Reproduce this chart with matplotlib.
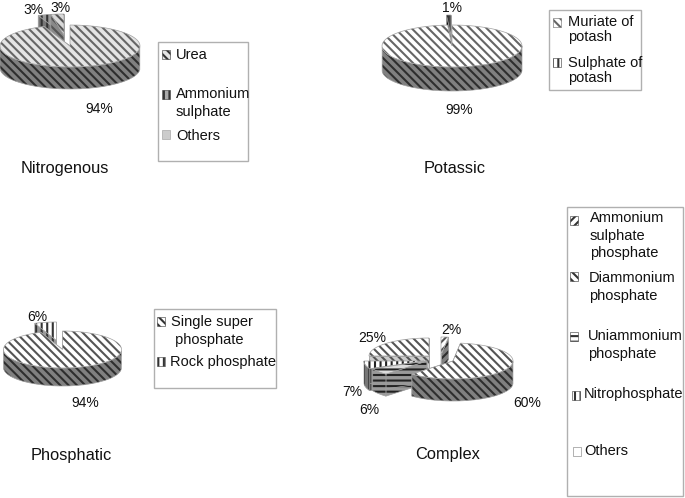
import numpy as np
import matplotlib
matplotlib.use('Agg')
import matplotlib.pyplot as plt
from matplotlib.patches import Polygon, Rectangle

plt.rcParams['font.family'] = ['Liberation Sans', 'DejaVu Sans']
plt.rcParams['hatch.linewidth'] = 1.5

nitro_values = [94, 3, 3]
nitro_labels = ['Urea', 'Ammonium\nsulphate', 'Others']
potash_values = [99, 1]
potash_labels = ['Muriate of\npotash', 'Sulphate of\npotash']
phos_values = [94, 6]
phos_labels = ['Single super\n phosphate', 'Rock phosphate']
complex_values = [2, 60, 6, 7, 25]
complex_labels = ['Ammonium\nsulphate\nphosphate', 'Diammonium\nphosphate',
                  'Uniammonium\nphosphate', 'Nitrophosphate', 'Others']

DIAG = '\\\\\\\\'
VERT = '|||'
HORZ = '---'
BACK = '////'


def clock_xy(cx, cy, rx, ry, theta):
    """Точка на еліпсі, кут за годинниковою стрілкою від 12 години"""
    t = np.radians(theta)
    return cx + rx * np.sin(t), cy - ry * np.cos(t)


def face(ax, pts, fc, hc, hatch, z):
    ax.add_patch(Polygon(pts, closed=True, facecolor=fc, edgecolor=hc, hatch=hatch, lw=0, zorder=z))
    ax.add_patch(Polygon(pts, closed=True, fill=False, edgecolor='#a0a0a0', lw=0.5, zorder=z + 0.1))


def slice_3d(ax, cx, cy, rx, ry, depth, a0, a1, top, side, hatch_col, side_hatch_col, hatch, z):
    th = np.linspace(a0, a1, 80)
    xs, ys = clock_xy(cx, cy, rx, ry, th)
    # зрізи
    for a in (a0, a1):
        x, y = clock_xy(cx, cy, rx, ry, a)
        face(ax, [(cx, cy), (x, y), (x, y + depth), (cx, cy + depth)], side, side_hatch_col, hatch, z)
    # бокова стінка, тільки передня половина еліпса
    front = th[(th >= 90) & (th <= 270)]
    if len(front) > 1:
        fx, fy = clock_xy(cx, cy, rx, ry, front)
        pts = list(zip(fx, fy)) + list(zip(fx[::-1], fy[::-1] + depth))
        face(ax, pts, side, side_hatch_col, hatch, z + 0.2)
    face(ax, [(cx, cy)] + list(zip(xs, ys)), top, hatch_col, hatch, z + 0.4)


def pie_3d(ax, values, cx, cy, rx, ry, depth, styles):
    total = sum(values)
    edges = np.concatenate([[0], np.cumsum(values)]) / total * 360
    for i, st in enumerate(styles):
        dx, dy, top, side, hc, shc, hatch, z = st
        slice_3d(ax, cx + dx, cy + dy, rx, ry, depth, edges[i], edges[i + 1],
                 top, side, hc, shc, hatch, z)


def legend_box(ax, x0, y0, x1, y1):
    ax.add_patch(Rectangle((x0, y0), x1 - x0, y1 - y0, fill=False, edgecolor='#b0b0b0', lw=1.0, zorder=5))


def legend_entry(ax, sx, sy, label, tx, ty, fc, hc, hatch, line=17.5):
    ax.add_patch(Rectangle((sx, sy), 8, 9, facecolor=fc, edgecolor=hc, hatch=hatch, lw=0.4, zorder=6))
    for k, part in enumerate(label.split('\n')):
        ax.text(tx, ty + k * line, part, fontsize=10.5, va='center', ha='left', color='#111111', zorder=6)


fig = plt.figure(figsize=(6.85, 4.98), dpi=100)
ax = fig.add_axes([0, 0, 1, 1])
ax.set_xlim(0, 685)
ax.set_ylim(498, 0)
ax.axis('off')

LIGHT = '#e4e4e4'
MID = '#808080'
DARK = '#333333'

# Nitrogenous
pie_3d(ax, nitro_values, 70, 46, 70, 21, 22, [
    (0, 0, LIGHT, MID, '#666666', '#2e2e2e', DIAG, 3),
    (-6, -11, '#999999', '#777777', DARK, DARK, VERT, 1),
    (-6, -11, '#d8d8d8', '#888888', '#555555', '#555555', DIAG, 2),
])
legend_box(ax, 158, 42, 248, 161)
legend_entry(ax, 162, 50, nitro_labels[0], 176, 55, LIGHT, DARK, DIAG)
legend_entry(ax, 162, 90, nitro_labels[1], 176, 94, '#aaaaaa', DARK, VERT)
legend_entry(ax, 162, 130, nitro_labels[2], 176, 136, '#cccccc', '#999999', '')

# Potassic
pie_3d(ax, potash_values, 452, 46, 70, 21, 24, [
    (0, 0, 'white', MID, '#666666', '#2e2e2e', DIAG, 3),
    (-1, -10, '#444444', DARK, '#111111', '#111111', VERT, 1),
])
legend_box(ax, 549, 10, 641, 90)
legend_entry(ax, 553, 18, potash_labels[0], 568, 22, 'white', '#666666', DIAG, line=15)
legend_entry(ax, 553, 58, potash_labels[1], 568, 63, 'white', DARK, VERT, line=15)

# Phosphatic
pie_3d(ax, phos_values, 62.5, 349.5, 59, 18.5, 18, [
    (0, 0, 'white', MID, '#555555', '#2e2e2e', DIAG, 3),
    (-6, -9, 'white', '#999999', DARK, DARK, VERT, 1),
])
legend_box(ax, 154, 309, 276, 388)
legend_entry(ax, 157, 317, phos_labels[0], 171, 322, 'white', DARK, DIAG, line=18)
legend_entry(ax, 157, 357, phos_labels[1], 170, 362, 'white', DARK, VERT)

# Complex
pie_3d(ax, complex_values, 453, 361, 60, 18, 22, [
    (-12, -6, 'white', MID, '#555555', '#2e2e2e', BACK, 4),
    (0, 0, 'white', MID, '#555555', '#2e2e2e', DIAG, 5),
    (-26, 0, '#dddddd', '#999999', '#222222', '#222222', HORZ, 3),
    (-29, 0, 'white', '#777777', '#222222', '#222222', VERT, 2),
    (-24, -5, 'white', '#cccccc', '#555555', '#555555', DIAG, 1),
])
legend_box(ax, 567, 207, 683, 496)
legend_entry(ax, 570, 216, complex_labels[0], 590, 218, 'white', DARK, BACK)
legend_entry(ax, 570, 272, complex_labels[1], 589, 278, 'white', DARK, DIAG)
legend_entry(ax, 570, 332, complex_labels[2], 588, 336, 'white', DARK, HORZ)
legend_entry(ax, 572, 391, complex_labels[3], 584, 394, 'white', DARK, VERT)
legend_entry(ax, 573, 447, complex_labels[4], 584, 451, 'white', '#777777', '')

# Підписи відсотків
pct_texts = ['3%', '3%', '94%', '1%', '99%', '6%', '94%', '25%', '2%', '60%', '7%', '6%']
pct_x = [33, 60, 99, 452, 459, 37, 85, 372, 451, 527, 352, 369]
pct_y = [10, 8, 109, 8, 110, 317, 403, 338, 330, 403, 392, 410]
for t, x, y in zip(pct_texts, pct_x, pct_y):
    ax.text(x, y, t, fontsize=10, ha='center', va='center', color='#111111', zorder=7)

titles = ['Nitrogenous', 'Potassic', 'Phosphatic', 'Complex']
title_x = [65, 455, 71, 448]
title_y = [168, 168, 455, 454]
for t, x, y in zip(titles, title_x, title_y):
    ax.text(x, y, t, fontsize=11.8, ha='center', va='center', color='#111111', zorder=7)

fig.savefig('out.png', dpi=100)
